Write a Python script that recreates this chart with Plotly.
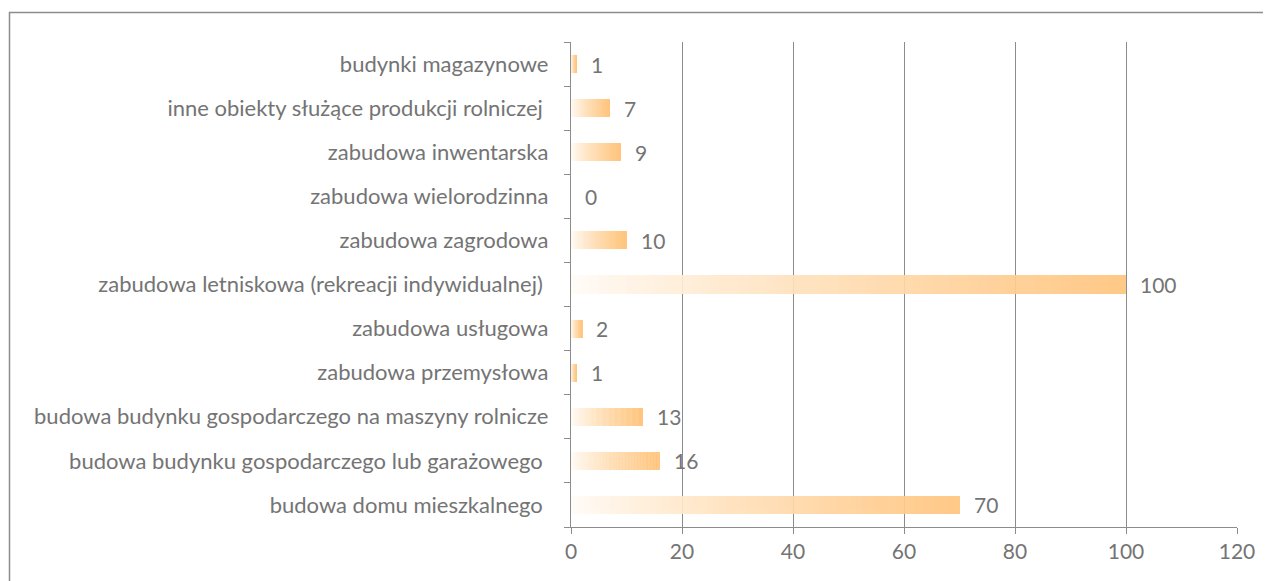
import plotly.graph_objects as go

categories = [
    "budowa domu mieszkalnego\u00a0",
    "budowa budynku gospodarczego lub garażowego\u00a0",
    "budowa budynku gospodarczego na maszyny rolnicze",
    "zabudowa przemysłowa",
    "zabudowa usługowa",
    "zabudowa letniskowa (rekreacji indywidualnej)\u00a0",
    "zabudowa zagrodowa",
    "zabudowa wielorodzinna",
    "zabudowa inwentarska",
    "inne obiekty służące produkcji rolniczej\u00a0",
    "budynki magazynowe",
]
values = [70, 16, 13, 1, 2, 100, 10, 0, 9, 7, 1]
x_ticks = [0, 20, 40, 60, 80, 100, 120]

FONT = "Lato, 'Open Sans', sans-serif"
GRAY = "#747474"
N = 60
start = (255, 253, 250)
end = (255, 196, 124)

fig = go.Figure()
for i in range(N):
    t = ((i + 0.5) / N) ** 0.8
    c = tuple(round(start[k] + (end[k] - start[k]) * t) for k in range(3))
    fig.add_trace(go.Bar(
        y=categories,
        x=[v / N for v in values],
        orientation="h",
        width=0.41,
        marker=dict(color="rgb(%d,%d,%d)" % c, line=dict(width=0)),
        opacity=0.92,
        hoverinfo="skip",
        showlegend=False,
    ))

for cat, v in zip(categories, values):
    fig.add_annotation(
        x=v, y=cat, text=str(v), showarrow=False, xanchor="left",
        xshift=12, font=dict(family=FONT, size=21, color=GRAY),
    )

# page body adds an 8px offset
OFF = 8
W, H = 1271, 581
ml, mr, mt, mb = 571 - OFF, 34 + OFF, 42 - OFF, 54 + OFF
pw, ph = W - ml - mr, H - mt - mb
px = lambda x: (x - OFF - ml) / pw
py = lambda y: (H - mb - (y - OFF)) / ph
fig.add_shape(type="line", xref="paper", yref="paper",
              x0=px(9), x1=px(1290), y0=py(12.5), y1=py(12.5),
              line=dict(color="#8c8c8c", width=1.5))
fig.add_shape(type="line", xref="paper", yref="paper",
              x0=px(9.5), x1=px(9.5), y0=py(12), y1=py(600),
              line=dict(color="#8c8c8c", width=1.5))

fig.update_layout(
    width=W, height=H,
    margin=dict(l=ml, r=mr, t=mt, b=mb),
    barmode="stack",
    bargap=0.59,
    plot_bgcolor="white",
    paper_bgcolor="white",
    font=dict(family=FONT, size=21, color=GRAY),
    xaxis=dict(
        range=[0, 120], tickvals=x_ticks, showgrid=True,
        gridcolor="#8c8c8c", gridwidth=1.3, zeroline=False,
        showline=True, linecolor="#8c8c8c", linewidth=1.3,
        ticks="outside", ticklen=6, tickcolor="#8c8c8c",
        tickfont=dict(family=FONT, size=21, color=GRAY),
        fixedrange=True,
    ),
    yaxis=dict(
        showline=True, linecolor="#8c8c8c", linewidth=1.3,
        ticks="outside", tickson="boundaries", ticklen=6, tickcolor="#8c8c8c",
        tickfont=dict(family=FONT, size=22, color=GRAY),
        ticklabelstandoff=17, showgrid=False, fixedrange=True,
    ),
)

fig.write_html("out.html")
